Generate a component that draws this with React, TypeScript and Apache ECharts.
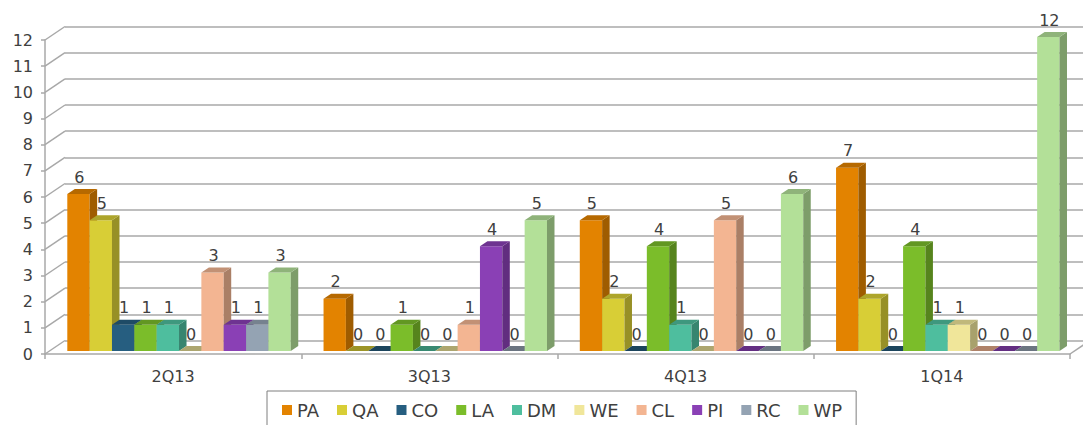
import React, { useEffect, useRef } from "react";
import * as echarts from "echarts";

const categories = ["2Q13", "3Q13", "4Q13", "1Q14"];
const seriesNames = ["PA", "QA", "CO", "LA", "DM", "WE", "CL", "PI", "RC", "WP"];
const PA = [6, 2, 5, 7];
const QA = [5, 0, 2, 2];
const CO = [1, 0, 0, 0];
const LA = [1, 1, 4, 4];
const DM = [1, 0, 1, 1];
const WE = [0, 0, 0, 1];
const CL = [3, 1, 5, 0];
const PI = [1, 4, 0, 0];
const RC = [1, 0, 0, 0];
const WP = [3, 5, 6, 12];
const seriesValues = [PA, QA, CO, LA, DM, WE, CL, PI, RC, WP];
const yTicks = [0, 1, 2, 3, 4, 5, 6, 7, 8, 9, 10, 11, 12];

const colors = [
  "#E38300",
  "#D8CE36",
  "#265E80",
  "#7BBD2A",
  "#4EBE9E",
  "#F0E69A",
  "#F3B592",
  "#8A40B5",
  "#94A3B3",
  "#B3E098",
];

const FONT = "DejaVu Sans";
const TEXT = "#404040";
const GRIDC = "#a8a8a8";

function shade(hex: string, f: number) {
  const n = parseInt(hex.slice(1), 16);
  const r = Math.round(((n >> 16) & 255) * f);
  const g = Math.round(((n >> 8) & 255) * f);
  const b = Math.round((n & 255) * f);
  return `rgb(${r},${g},${b})`;
}

const BAR_FRAC = 0.0872;
const SHIFT = 0.023;
const DX = 7.5;
const DY = 5;

function makeBarRender(i: number) {
  return (params: any, api: any) => {
    const c = api.value(0);
    const v = api.value(1);
    const base = api.coord([c, 0]);
    const tp = api.coord([c, v]);
    const catW = api.size([1, 0])[0];
    const bw = catW * BAR_FRAC;
    const x0 = base[0] + catW * SHIFT + (i - 5) * bw;
    const yb = base[1] - 3;
    const yt = tp[1] - 3;
    const color = colors[i];
    const children: any[] = [];
    if (v > 0) {
      children.push({
        type: "rect",
        shape: { x: x0, y: yt, width: bw, height: yb - yt },
        style: { fill: color },
      });
      children.push({
        type: "polygon",
        shape: {
          points: [
            [x0 + bw, yt],
            [x0 + bw + DX, yt - DY],
            [x0 + bw + DX, yb - DY],
            [x0 + bw, yb],
          ],
        },
        style: { fill: shade(color, 0.7) },
      });
    }
    children.push({
      type: "polygon",
      shape: {
        points: [
          [x0, yt],
          [x0 + DX, yt - DY],
          [x0 + bw + DX, yt - DY],
          [x0 + bw, yt],
        ],
      },
      style: { fill: shade(color, v > 0 ? 0.8 : 0.72) },
    });
    children.push({
      type: "text",
      style: {
        x: x0 + bw / 2 + 1,
        y: yt - DY - 4,
        text: String(v),
        align: "center",
        verticalAlign: "bottom",
        fill: TEXT,
        font: `16px "${FONT}"`,
      },
      z2: 10,
    });
    return { type: "group", children };
  };
}

export default function App() {
  const ref = useRef<HTMLDivElement>(null);
  useEffect(() => {
    if (!ref.current) return;
    const chart = echarts.init(ref.current, null, { renderer: "svg" });

    const barSeries = seriesNames.map((name, i) => ({
      name,
      type: "custom",
      xAxisIndex: 0,
      yAxisIndex: 0,
      clip: false,
      z: 10 + i,
      itemStyle: { color: colors[i] },
      encode: { x: 0, y: 1 },
      data: seriesValues[i].map((v, c) => [c, v]),
      renderItem: makeBarRender(i),
    }));

    const diagSeries = {
      type: "custom",
      xAxisIndex: 0,
      yAxisIndex: 0,
      clip: false,
      silent: true,
      z: 3,
      encode: { x: 0, y: 1 },
      data: yTicks.map((t) => [0, t]),
      renderItem: (params: any, api: any) => {
        const p = api.coord([api.value(0), api.value(1)]);
        const catW = api.size([1, 0])[0];
        const x = p[0] - catW / 2;
        return {
          type: "line",
          shape: { x1: x, y1: p[1], x2: x + 20, y2: p[1] - 13.5 },
          style: { stroke: GRIDC, lineWidth: 1.5 },
        };
      },
    };

    const floorRight = {
      type: "custom",
      xAxisIndex: 0,
      yAxisIndex: 0,
      clip: false,
      silent: true,
      z: 3,
      encode: { x: 0, y: 1 },
      data: [[categories.length - 1, 0]],
      renderItem: (params: any, api: any) => {
        const p = api.coord([api.value(0), api.value(1)]);
        const catW = api.size([1, 0])[0];
        const x = p[0] + catW / 2;
        return {
          type: "line",
          shape: { x1: x, y1: p[1], x2: x + 20, y2: p[1] - 13.5 },
          style: { stroke: GRIDC, lineWidth: 1.5 },
        };
      },
    };

    chart.setOption({
      animation: false,
      backgroundColor: "#ffffff",
      textStyle: { fontFamily: FONT },
      grid: [
        { left: 45, top: 40, width: 1025, height: 314 },
        { left: 65, top: 26.5, width: 1030, height: 314 },
      ],
      xAxis: [
        {
          type: "category",
          gridIndex: 0,
          data: categories,
          axisLine: { show: true, lineStyle: { color: GRIDC, width: 1.5 } },
          axisTick: { show: true, length: 5, lineStyle: { color: GRIDC, width: 1.5 } },
          axisLabel: { fontSize: 16, color: TEXT, margin: 14, fontFamily: FONT },
          splitLine: { show: false },
        },
        {
          type: "category",
          gridIndex: 1,
          data: categories,
          show: false,
        },
      ],
      yAxis: [
        {
          type: "value",
          gridIndex: 0,
          min: 0,
          max: 12,
          interval: 1,
          axisLine: { show: true, lineStyle: { color: GRIDC, width: 1.5 } },
          axisTick: { show: true, length: 4, lineStyle: { color: GRIDC, width: 1.5 } },
          axisLabel: { fontSize: 16, color: TEXT, margin: 12, fontFamily: FONT },
          splitLine: { show: false },
        },
        {
          type: "value",
          gridIndex: 1,
          min: 0,
          max: 12,
          interval: 1,
          axisLine: { show: false },
          axisTick: { show: false },
          axisLabel: { show: false },
          splitLine: { show: true, lineStyle: { color: GRIDC, width: 1.5 } },
        },
      ],
      legend: {
        data: seriesNames,
        left: 267,
        top: 391,
        orient: "horizontal",
        icon: "rect",
        itemWidth: 10,
        itemHeight: 10,
        itemGap: 18,
        borderColor: "#7f7f7f",
        borderWidth: 1,
        padding: [10, 14, 20, 15],
        textStyle: { fontSize: 18, color: TEXT, fontFamily: FONT },
      },
      series: [diagSeries, floorRight, ...barSeries],
    });
    return () => chart.dispose();
  }, []);
  return (
    <div
      ref={ref}
      style={{ position: "fixed", left: 0, top: 0, width: 1083, height: 425 }}
    />
  );
}
